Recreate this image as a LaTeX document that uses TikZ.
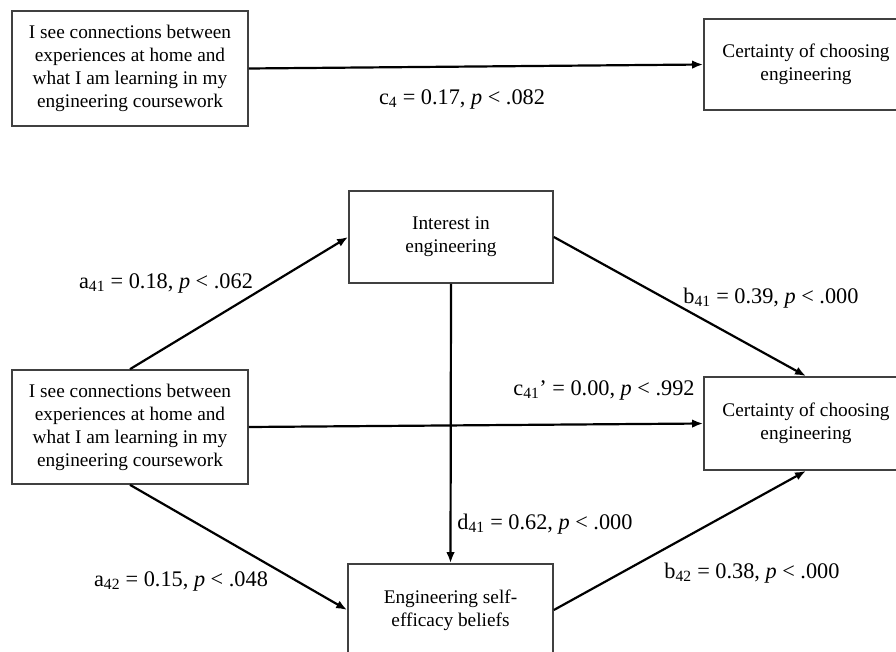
\documentclass[tikz,border=0pt]{standalone}
\usepackage{fontspec}
\setmainfont{Liberation Serif}
\usetikzlibrary{arrows.meta}
\tikzset{
  box/.style={draw=black!75, line width=1.7pt, fill=white, align=center, font=\fontsize{19.3}{23}\selectfont, inner sep=0pt},
  lbl/.style={font=\fontsize{22.3}{25}\selectfont, inner sep=0pt},
  arr/.style={line width=2.2pt, -{Latex[length=11pt,width=8.5pt]}}
}
\begin{document}
\begin{tikzpicture}[x=1pt,y=-1pt]
\useasboundingbox (0,0) rectangle (896,652);
\clip (0,0) rectangle (896,652);
\fill[white] (0,0) rectangle (896,652);
% top model
\node[box, minimum width=236pt, minimum height=115pt] (L1) at (130,68.5) {I see connections between\\experiences at home and\\what I am learning in my\\engineering coursework};
\node[box, minimum width=204pt, minimum height=91pt] (R1) at (806,64.5) {Certainty of choosing\\engineering};
\draw[arr] (L1.east) -- (R1.west);
\node[lbl] (c4) at (462,99) {c\textsubscript{4} = 0.17, \textit{p} < .082};
% bottom model
\node[box, minimum width=236pt, minimum height=114pt] (L2) at (130,427) {I see connections between\\experiences at home and\\what I am learning in my\\engineering coursework};
\node[box, minimum width=204pt, minimum height=93pt] (R2) at (806,423.5) {Certainty of choosing\\engineering};
\node[box, minimum width=204pt, minimum height=92pt] (I) at (451,237) {Interest in\\engineering};
\node[box, minimum width=205pt, minimum height=92pt] (S) at (450.5,610) {Engineering self-\\efficacy beliefs};
\draw[arr] (L2.north) -- (I.west);
\draw[arr] (I.east) -- (R2.north);
\draw[arr] (L2.east) -- (R2.west);
\draw[arr] (I.south) -- (S.north);
\draw[arr] (L2.south) -- (S.west);
\draw[arr] (S.east) -- (R2.south);
\node[lbl] (a41) at (166,283) {a\textsubscript{41} = 0.18, \textit{p} < .062};
\node[lbl] (b41) at (771,298) {b\textsubscript{41} = 0.39, \textit{p} < .000};
\node[lbl] (c41) at (604,390) {c\textsubscript{41}’ = 0.00, \textit{p} < .992};
\node[lbl] (d41) at (545,524) {d\textsubscript{41} = 0.62, \textit{p} < .000};
\node[lbl] (a42) at (181,581) {a\textsubscript{42} = 0.15, \textit{p} < .048};
\node[lbl] (b42) at (752,573) {b\textsubscript{42} = 0.38, \textit{p} < .000};
\end{tikzpicture}
\end{document}
